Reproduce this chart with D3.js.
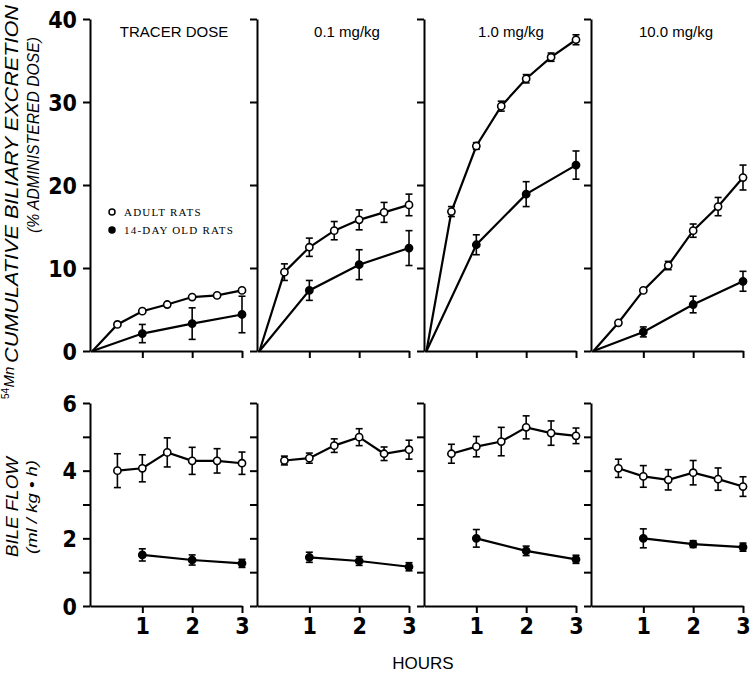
<!DOCTYPE html>
<html>
<head>
<meta charset="utf-8">
<script src="https://cdn.jsdelivr.net/npm/d3@7"></script>
<style>
  html, body { margin: 0; padding: 0; background: #fff; }
  svg { display: block; }
</style>
</head>
<body>
<script>
// ---------------- DATA ----------------
const panelTitles = ["TRACER DOSE", "0.1 mg/kg", "1.0 mg/kg", "10.0 mg/kg"];
const adultHours = [0.5, 1, 1.5, 2, 2.5, 3];
const pupHours = [1, 2, 3];
const hourTicks = [1, 2, 3];
const excretionTicks = [0, 10, 20, 30, 40];
const flowTicks = [0, 1, 2, 3, 4, 5, 6];
const flowTickLabels = [0, 2, 4, 6];

// cumulative biliary excretion (% administered dose)
const excretionAdult = [
  [3.2, 4.8, 5.6, 6.5, 6.7, 7.3],
  [9.5, 12.5, 14.5, 15.8, 16.7, 17.6],
  [16.8, 24.7, 29.5, 32.8, 35.4, 37.5],
  [3.4, 7.3, 10.3, 14.5, 17.4, 20.9]
];
const excretionAdultErr = [
  [0, 0, 0, 0, 0, 0],
  [1.0, 1.1, 1.1, 1.2, 1.2, 1.3],
  [0.6, 0.4, 0.6, 0.5, 0.5, 0.6],
  [0, 0, 0.5, 0.8, 1.1, 1.5]
];
const excretionPup = [
  [2.1, 3.3, 4.4],
  [7.3, 10.4, 12.4],
  [12.8, 18.9, 22.4],
  [2.3, 5.6, 8.4]
];
const excretionPupErr = [
  [1.1, 1.9, 2.2],
  [1.2, 1.8, 2.1],
  [1.2, 1.5, 1.7],
  [0.6, 1.0, 1.2]
];

// bile flow (ml/kg*h)
const flowAdult = [
  [4.0, 4.07, 4.54, 4.29, 4.29, 4.22],
  [4.3, 4.37, 4.74, 4.99, 4.5, 4.62],
  [4.5, 4.71, 4.86, 5.28, 5.11, 5.03],
  [4.07, 3.83, 3.73, 3.94, 3.75, 3.53]
];
const flowAdultErr = [
  [0.5, 0.4, 0.43, 0.4, 0.36, 0.33],
  [0.13, 0.15, 0.2, 0.25, 0.2, 0.28],
  [0.28, 0.3, 0.42, 0.34, 0.36, 0.23],
  [0.27, 0.32, 0.3, 0.36, 0.33, 0.29]
];
const flowPup = [
  [1.51, 1.36, 1.26],
  [1.44, 1.33, 1.16],
  [2.0, 1.63, 1.38],
  [2.0, 1.83, 1.74]
];
const flowPupErr = [
  [0.18, 0.15, 0.12],
  [0.15, 0.13, 0.12],
  [0.26, 0.14, 0.12],
  [0.28, 0.10, 0.12]
];

// ---------------- LAYOUT ----------------
const W = 750, H = 673;
const svg = d3.select("body").append("svg").attr("width", W).attr("height", H);

const axisX0 = 90, panelStep = 167, panelW = 152;
const topY = d3.scaleLinear().domain([0, 40]).range([351, 19]);
const botY = d3.scaleLinear().domain([0, 6]).range([606, 403]);

const numFont = "'Liberation Sans Narrow', 'DejaVu Sans Condensed', 'Liberation Sans', sans-serif";
const sansFont = "'Liberation Sans', Arial, sans-serif";

function drawPanel(i, yScale, yTicks, yLabels, showXLabels, adult, adultErr, pup, pupErr, fromOrigin) {
  const left = axisX0 + i * panelStep;
  const x = d3.scaleLinear().domain([-0.05, 3]).range([left, left + panelW]);
  const g = svg.append("g");

  // y axis
  const yAx = d3.axisLeft(yScale).tickValues(yTicks).tickSize(7).tickSizeOuter(0)
    .tickFormat(d => (i === 0 && yLabels.includes(d)) ? d : "");
  const ya = g.append("g").attr("transform", `translate(${left},0)`).call(yAx);
  ya.selectAll("path, line").attr("stroke", "#000").attr("stroke-width", 2);
  ya.selectAll("text").attr("font-family", numFont).attr("font-weight", "bold")
    .attr("font-size", 23).attr("fill", "#000").attr("x", -13).attr("dy", "0.36em");

  // x axis
  const xAx = d3.axisBottom(x).tickValues(hourTicks).tickSize(7).tickSizeOuter(0)
    .tickFormat(d => showXLabels ? d : "");
  const xa = g.append("g").attr("transform", `translate(0,${yScale(0)})`).call(xAx);
  xa.selectAll("path, line").attr("stroke", "#000").attr("stroke-width", 2);
  xa.selectAll("text").attr("font-family", numFont).attr("font-weight", "bold")
    .attr("font-size", 23).attr("fill", "#000").attr("y", 12);

  const line = d3.line().x(d => x(d[0])).y(d => yScale(d[1]));

  function series(hours, vals, errs, filled) {
    const pts = hours.map((h, k) => [h, vals[k], errs[k]]);
    const path = fromOrigin ? [[0, 0]].concat(pts) : pts;
    g.append("path").attr("d", line(path)).attr("fill", "none")
      .attr("stroke", "#000").attr("stroke-width", 2.2);
    const eb = g.append("g");
    pts.filter(p => p[2] > 0).forEach(p => {
      const cx = x(p[0]), y1 = yScale(p[1] + p[2]), y2 = yScale(p[1] - p[2]);
      eb.append("line").attr("x1", cx).attr("x2", cx).attr("y1", y1).attr("y2", y2)
        .attr("stroke", "#000").attr("stroke-width", 1.6);
      [y1, y2].forEach(yy => eb.append("line").attr("x1", cx - 3.5).attr("x2", cx + 3.5)
        .attr("y1", yy).attr("y2", yy).attr("stroke", "#000").attr("stroke-width", 1.6));
    });
    g.selectAll(null).data(pts).enter().append("circle")
      .attr("cx", d => x(d[0])).attr("cy", d => yScale(d[1])).attr("r", 3.6)
      .attr("fill", filled ? "#000" : "#fff").attr("stroke", "#000").attr("stroke-width", 1.6);
  }
  series(pupHours, pup[i], pupErr[i], true);
  series(adultHours, adult[i], adultErr[i], false);
}

for (let i = 0; i < 4; i++) {
  drawPanel(i, topY, excretionTicks, excretionTicks, false,
    excretionAdult, excretionAdultErr, excretionPup, excretionPupErr, true);
  drawPanel(i, botY, flowTicks, flowTickLabels, true,
    flowAdult, flowAdultErr, flowPup, flowPupErr, false);
}

// panel titles
const titleX = [174, 347, 511, 676];
panelTitles.forEach((t, i) => {
  svg.append("text").attr("x", titleX[i]).attr("y", 37).attr("text-anchor", "middle")
    .attr("font-family", sansFont).attr("font-size", 15).attr("fill", "#000").text(t);
});

// legend
const legend = [["ADULT RATS", false, 212], ["14-DAY OLD RATS", true, 230]];
legend.forEach(([t, filled, y]) => {
  svg.append("circle").attr("cx", 112).attr("cy", y).attr("r", 3)
    .attr("fill", filled ? "#000" : "#fff").attr("stroke", "#000").attr("stroke-width", 1.5);
  svg.append("text").attr("x", 124).attr("y", y + 4)
    .attr("font-family", "'Liberation Serif', 'DejaVu Serif', serif").attr("font-size", 11)
    .attr("letter-spacing", 1.2).attr("fill", "#000").text(t);
});

// y-axis titles (rotated)
function vtext(x, cy, size, str, len) {
  const t = svg.append("text").attr("transform", `translate(${x},${cy}) rotate(-90)`)
    .attr("text-anchor", "middle").attr("dy", "0.35em")
    .attr("font-family", sansFont).attr("font-style", "italic").attr("font-size", size)
    .attr("fill", "#000").text(str);
  if (len) t.attr("textLength", len).attr("lengthAdjust", "spacingAndGlyphs");
  return t;
}
// top title line 1 with superscript 54
const t1 = svg.append("text").attr("transform", `translate(12,399) rotate(-90)`)
  .attr("dy", "0.35em").attr("font-family", sansFont).attr("font-size", 15).attr("fill", "#000");
t1.append("tspan").attr("font-size", 10).attr("dy", "-0.3em").text("54");
t1.append("tspan").attr("font-style", "italic").attr("dy", "0.3em").attr("dx", 0.5).text("Mn");
vtext(12, 184, 18, "CUMULATIVE  BILIARY  EXCRETION", 358);
vtext(33, 135, 16, "(% ADMINISTERED DOSE)", 196);
vtext(12, 507, 17, "BILE  FLOW", 100);
vtext(32, 507, 15, "(ml / kg \u2022 h)", 94);

// x-axis title
svg.append("text").attr("x", 423).attr("y", 669).attr("text-anchor", "middle")
  .attr("font-family", sansFont).attr("font-size", 17).attr("fill", "#000").text("HOURS");
</script>
</body>
</html>
